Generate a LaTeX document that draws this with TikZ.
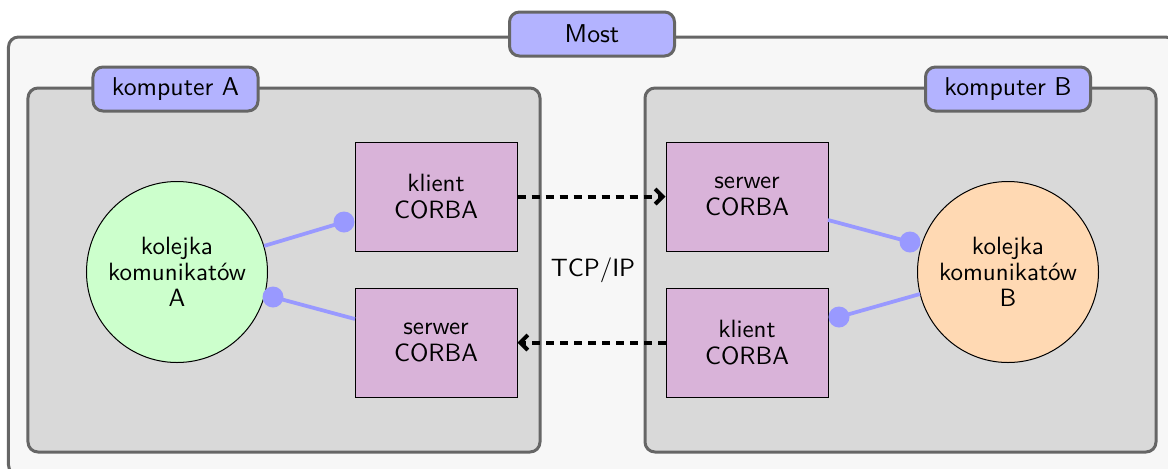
\documentclass[tikz,border=0pt]{standalone}
\usetikzlibrary{arrows.meta}
\definecolor{framegray}{RGB}{102,102,102}
\definecolor{outerfill}{RGB}{247,247,247}
\definecolor{innerfill}{RGB}{217,217,217}
\definecolor{labfill}{RGB}{179,179,255}
\definecolor{corbafill}{RGB}{217,179,217}
\definecolor{qAfill}{RGB}{204,255,204}
\definecolor{qBfill}{RGB}{255,217,179}
\definecolor{lolcol}{RGB}{153,153,255}
\tikzset{
  every node/.style={font=\sffamily},
  frame/.style={draw=framegray, line width=1.2pt, rounded corners=4pt},
  lab/.style={draw=framegray, fill=labfill, line width=1.2pt, rounded corners=4pt,
    minimum width=66pt, minimum height=17.6pt, inner sep=0pt, font=\sffamily\fontsize{10.3}{12}\selectfont},
  corba/.style={draw=black, fill=corbafill, line width=0.4pt, minimum width=64.8pt,
    minimum height=43.6pt, align=center, inner sep=0pt, font=\sffamily\fontsize{10}{11}\selectfont},
  queue/.style={circle, draw=black, line width=0.4pt, minimum size=72.4pt, inner sep=0pt,
    align=center, font=\sffamily\fontsize{10}{10.5}\selectfont},
  lol/.style={draw=lolcol, line width=1.5pt},
  ball/.style={fill=lolcol},
  net/.style={line width=1.6pt, dash pattern=on 3.2pt off 2.4pt, -{Straight Barb[length=3pt,width=6pt]}}
}
\begin{document}
\begin{tikzpicture}[x=0.4pt,y=-0.4pt]
\useasboundingbox (0,0) rectangle (1168,468);
\clip (0,0) rectangle (1168,468);
% outer frame
\node[frame, fill=outerfill, minimum width=466.8pt, minimum height=175.2pt, inner sep=0pt] (most) at (592,256) {};
\node[lab] (mostlab) at (592,34) {Most};
% computer frames
\node[frame, fill=innerfill, minimum width=204.8pt, minimum height=145.6pt, inner sep=0pt] (compA) at (284,270) {};
\node[frame, fill=innerfill, minimum width=204.4pt, minimum height=145.6pt, inner sep=0pt] (compB) at (900.5,270) {};
\node[lab] (labA) at (175.5,89) {komputer A};
\node[lab] (labB) at (1008,89) {komputer B};
% queues
\node[queue, fill=qAfill] (qA) at (177,272) {kolejka\\komunikatów\\A};
\node[queue, fill=qBfill] (qB) at (1008,272) {kolejka\\komunikatów\\B};
% CORBA boxes
\node[corba] (kA) at (436,196.5) {klient\\CORBA};
\node[corba] (sA) at (436,342.5) {serwer\\CORBA};
\node[corba] (sB) at (747,196.5) {serwer\\CORBA};
\node[corba] (kB) at (747,342.5) {klient\\CORBA};
% lollipops
\coordinate (dkA) at (344,222);
\coordinate (dsA) at (273,297);
\coordinate (esA) at (355,319);
\coordinate (dsB) at (910,242);
\coordinate (esB) at (828,220);
\coordinate (dkB) at (839,317);
\coordinate (ekB) at (920,294);
\draw[lol] (qA) -- (dkA);
\fill[ball] (dkA) circle (4.2pt);
\draw[lol] (dsA) -- (esA);
\fill[ball] (dsA) circle (4.2pt);
\draw[lol] (esB) -- (dsB);
\fill[ball] (dsB) circle (4.2pt);
\draw[lol] (dkB) -- (ekB);
\fill[ball] (dkB) circle (4.2pt);
% network
\draw[net] (kA.east) -- (sB.west);
\draw[net] (kB.west) -- (sA.east);
\node (tcp) at (593,270) {TCP/IP};
\end{tikzpicture}
\end{document}
